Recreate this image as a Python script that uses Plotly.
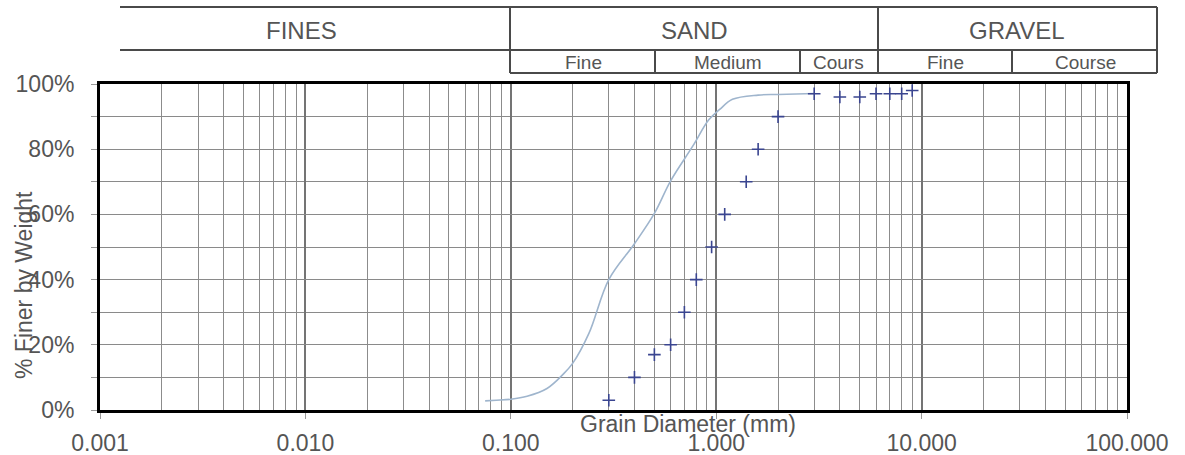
import plotly.graph_objects as go

# Gradation curve (grain diameter in mm vs. percent finer)
curve_diameter_mm = [0.075, 0.085, 0.10, 0.12, 0.15, 0.18, 0.20, 0.24, 0.30, 0.40,
                     0.50, 0.60, 0.77, 0.92, 1.04, 1.2, 1.6, 2.0, 3.0]
curve_percent_finer = [2.8, 3.0, 3.3, 4.2, 6.6, 11.0, 14.3, 23.5, 40.0, 51.0,
                       60.3, 70.3, 81.0, 89.0, 92.2, 95.3, 96.6, 96.8, 97.1]

# Individual sieve readings
sieve_diameter_mm = [0.30, 0.40, 0.50, 0.60, 0.70, 0.80, 0.95, 1.1, 1.4, 1.6,
                     2.0, 3.0, 4.0, 5.0, 6.0, 7.0, 8.0, 9.0]
sieve_percent_finer = [3, 10, 17, 20, 30, 40, 50, 60, 70, 80,
                       90, 97, 96, 96, 97, 97, 97, 98]

x_tick_values = [0.001, 0.01, 0.1, 1, 10, 100]
x_tick_labels = ["0.001", "0.010", "0.100", "1.000", "10.000", "100.000"]
y_tick_values = [0, 20, 40, 60, 80, 100]
y_tick_labels = ["0%", "20%", "40%", "60%", "80%", "100%"]

# Soil classification header
main_groups = ["FINES", "SAND", "GRAVEL"]
sub_groups = ["Fine", "Medium", "Cours", "Fine", "Course"]

W, H = 1185, 455
L, R, T, B = 100, 1127, 84, 410
FONT = "Liberation Sans, Arial, sans-serif"
TEXT = "#555555"


def px(x):
    return (x - L) / (R - L)


def py(y):
    return (B - y) / (B - T)


fig = go.Figure()

fig.add_trace(go.Scatter(
    x=curve_diameter_mm, y=curve_percent_finer, mode="lines",
    line=dict(color="#9fb5cd", width=1.6, shape="spline", smoothing=1.0),
    hoverinfo="skip", showlegend=False,
))
fig.add_trace(go.Scatter(
    x=sieve_diameter_mm, y=sieve_percent_finer, mode="markers",
    marker=dict(symbol="cross-thin", size=9,
                line=dict(color="#3a4590", width=1.6)),
    showlegend=False,
))

minor_x = [k * 10 ** e for e in range(-3, 2) for k in range(2, 10)]

fig.update_xaxes(
    type="log", range=[-3, 2], automargin=False,
    tickvals=x_tick_values, ticktext=x_tick_labels,
    tickfont=dict(family=FONT, size=23, color=TEXT),
    showgrid=True, gridcolor="#747474", gridwidth=1.5,
    minor=dict(tickvals=minor_x, showgrid=True, gridcolor="#8c8c8c",
               gridwidth=1.4, ticks=""),
    ticks="outside", ticklen=6, tickcolor="#999", tickwidth=1,
    showline=True, linecolor="black", linewidth=3, mirror=True,
    zeroline=False, ticklabelstandoff=4,
)
fig.update_yaxes(
    range=[0, 100], automargin=False,
    tickvals=y_tick_values, ticktext=y_tick_labels,
    tickfont=dict(family=FONT, size=23, color=TEXT),
    showgrid=True, gridcolor="#8a8a8a", gridwidth=1.4,
    minor=dict(dtick=10, showgrid=True, gridcolor="#8a8a8a", gridwidth=1.4,
               ticks="outside", ticklen=6, tickcolor="#999"),
    ticks="outside", ticklen=6, tickcolor="#999", tickwidth=1,
    showline=True, linecolor="black", linewidth=3, mirror=True,
    zeroline=False, ticklabelstandoff=12,
)

# Header table lines
line_style = dict(color="#4a4a4a", width=2)
segments = [
    (120, 7, 1157, 7), (120, 50, 1157, 50), (510, 73, 1157, 73),
    (510, 7, 510, 73), (878, 7, 878, 73), (1157, 7, 1157, 73),
    (655, 50, 655, 73), (800, 50, 800, 73), (1012, 50, 1012, 73),
]
for x0, y0, x1, y1 in segments:
    fig.add_shape(type="line", xref="paper", yref="paper",
                  x0=px(x0), y0=py(y0), x1=px(x1), y1=py(y1), line=line_style)

main_centers = [301, 694, 1017]
for label, cx in zip(main_groups, main_centers):
    fig.add_annotation(text=label, x=px(cx), y=py(30), xref="paper", yref="paper",
                       showarrow=False, xanchor="center", yanchor="middle",
                       font=dict(family=FONT, size=24, color=TEXT))

sub_centers = [583, 728, 838, 945, 1085]
for label, cx in zip(sub_groups, sub_centers):
    fig.add_annotation(text=label, x=px(cx), y=py(62.5), xref="paper", yref="paper",
                       showarrow=False, xanchor="center", yanchor="middle",
                       font=dict(family=FONT, size=19, color=TEXT))

# Axis titles
fig.add_annotation(text="% Finer by Weight", x=px(24), y=py(285),
                   xref="paper", yref="paper", showarrow=False, textangle=-90,
                   xanchor="center", yanchor="middle",
                   font=dict(family=FONT, size=23, color=TEXT))
fig.add_annotation(text="Grain Diameter (mm)", x=px(688), y=py(424),
                   xref="paper", yref="paper", showarrow=False,
                   xanchor="center", yanchor="middle",
                   font=dict(family=FONT, size=23, color=TEXT))

fig.update_layout(
    width=W, height=H,
    margin=dict(l=L, r=W - R, t=T, b=H - B, autoexpand=False),
    paper_bgcolor="white", plot_bgcolor="white",
    showlegend=False,
)

fig.write_html("out.html")
